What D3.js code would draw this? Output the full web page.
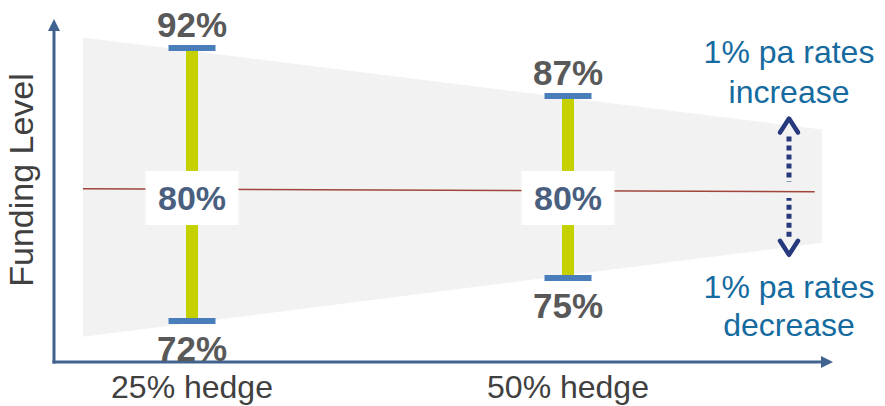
<!DOCTYPE html>
<html>
<head>
<meta charset="utf-8">
<script src="https://cdn.jsdelivr.net/npm/d3@7"></script>
<style>
  body { margin: 0; background: #fff; }
  svg { display: block; font-family: "Liberation Sans", Arial, sans-serif; }
</style>
</head>
<body>
<svg id="chart"></svg>
<script>
// hedge ratios and the funding level ranges around the 80% central case
const hedges = [25, 50];
const hedgeLabels = ["25% hedge", "50% hedge"];
const central = [80, 80];
const upper = [92, 87];
const lower = [72, 75];

// outcome funnel (1% pa rates up / down)
const bandHedge = [17.75, 66.9];
const bandHigh = [93.1, 84.5];
const bandLow = [70.9, 77.0];
const midHedge = [17.75, 66.4];
const midLevel = [80.1, 79.9];

const upText = ["1% pa rates", "increase"];
const downText = ["1% pa rates", "decrease"];

const W = 885, H = 406;
const svg = d3.select("#chart").attr("width", W).attr("height", H);

const x = d3.scaleLinear().domain([25, 50]).range([192, 568]);
// schematic axis, not to scale
const y = d3.scaleLinear()
  .domain([72, 75, 80, 87, 92])
  .range([321, 278, 190, 96, 48]);

const axisX = 54, axisY = 362;
const axisColor = "#41638f";

// funnel band
const bandData = bandHedge.map((h, i) => ({ h, hi: bandHigh[i], lo: bandLow[i] }));
svg.append("path")
  .datum(bandData)
  .attr("fill", "#f2f2f2")
  .attr("d", d3.area().x(d => x(d.h)).y0(d => y(d.lo)).y1(d => y(d.hi)));

// central line
svg.append("path")
  .datum(midHedge.map((h, i) => ({ h, v: midLevel[i] })))
  .attr("fill", "none")
  .attr("stroke", "#a0453c")
  .attr("stroke-width", 1.5)
  .attr("d", d3.line().x(d => x(d.h)).y(d => y(d.v)));

// axes with arrow heads
svg.append("line")
  .attr("x1", axisX).attr("y1", axisY + 1.5)
  .attr("x2", axisX).attr("y2", 30)
  .attr("stroke", axisColor).attr("stroke-width", 3);
svg.append("path")
  .attr("d", `M${axisX - 6},31 L${axisX},19 L${axisX + 6},31 Z`)
  .attr("fill", axisColor);
svg.append("line")
  .attr("x1", axisX - 1.5).attr("y1", axisY)
  .attr("x2", 822).attr("y2", axisY)
  .attr("stroke", axisColor).attr("stroke-width", 3);
svg.append("path")
  .attr("d", `M821,${axisY - 6} L833,${axisY} L821,${axisY + 6} Z`)
  .attr("fill", axisColor);

svg.append("text")
  .attr("transform", `translate(${axisX - 21},180) rotate(-90)`)
  .attr("text-anchor", "middle")
  .attr("fill", "#404040")
  .style("font-size", "34px")
  .text("Funding Level");

svg.selectAll(".xlab")
  .data(hedges)
  .join("text")
  .attr("class", "xlab")
  .attr("x", d => x(d))
  .attr("y", 398)
  .attr("text-anchor", "middle")
  .attr("fill", "#404040")
  .style("font-size", "32px")
  .text((d, i) => hedgeLabels[i]);

// range bars
const bars = hedges.map((h, i) => ({ h, mid: central[i], hi: upper[i], lo: lower[i] }));
const g = svg.selectAll(".bar").data(bars).join("g").attr("class", "bar");

g.append("rect")
  .attr("x", d => x(d.h) - 6)
  .attr("width", 12)
  .attr("y", d => y(d.hi))
  .attr("height", d => y(d.lo) - y(d.hi))
  .attr("fill", "#c4d000");

g.selectAll(".cap")
  .data(d => [{ h: d.h, v: d.hi }, { h: d.h, v: d.lo }])
  .join("rect")
  .attr("class", "cap")
  .attr("x", d => x(d.h) - 23.5)
  .attr("width", 47)
  .attr("y", d => y(d.v) - 3)
  .attr("height", 6)
  .attr("fill", "#4a7ebb");

g.append("rect")
  .attr("x", d => x(d.h) - 46.5)
  .attr("width", 93)
  .attr("y", d => y(d.mid) - 19)
  .attr("height", 54)
  .attr("fill", "#fff");

g.append("text")
  .attr("x", d => x(d.h))
  .attr("y", d => y(d.mid) + 20)
  .attr("text-anchor", "middle")
  .attr("fill", "#4a5f80")
  .style("font-size", "34px")
  .style("font-weight", "bold")
  .text(d => d.mid + "%");

g.append("text")
  .attr("x", d => x(d.h))
  .attr("y", d => y(d.hi) - 11)
  .attr("text-anchor", "middle")
  .attr("fill", "#595959")
  .style("font-size", "35px")
  .style("font-weight", "bold")
  .text(d => d.hi + "%");

g.append("text")
  .attr("x", d => x(d.h))
  .attr("y", d => y(d.lo) + 40)
  .attr("text-anchor", "middle")
  .attr("fill", "#595959")
  .style("font-size", "35px")
  .style("font-weight", "bold")
  .text(d => d.lo + "%");

// rates arrows
const arrowX = 789, arrowColor = "#26397d";
const aTop = y(bandHigh[1]) - 11, aBot = y(bandLow[1]) + 12, aMid = y(80);
[[aTop, aMid - 8, -1], [aBot, aMid + 8, 1]].forEach(([tip, end, dir]) => {
  svg.append("line")
    .attr("x1", arrowX).attr("x2", arrowX)
    .attr("y1", tip - dir * 18).attr("y2", end)
    .attr("stroke", arrowColor).attr("stroke-width", 5)
    .attr("stroke-dasharray", "5 4");
  svg.append("path")
    .attr("d", `M${arrowX - 9},${tip - dir * 14} L${arrowX},${tip} L${arrowX + 9},${tip - dir * 14}`)
    .attr("fill", "none")
    .attr("stroke", arrowColor).attr("stroke-width", 4.5)
    .attr("stroke-linejoin", "round").attr("stroke-linecap", "round");
});

const noteColor = "#156ba0";
const addNote = (lines, y0, dy) => svg.append("text")
  .attr("text-anchor", "middle")
  .attr("fill", noteColor)
  .style("font-size", "32px")
  .selectAll("tspan")
  .data(lines)
  .join("tspan")
  .attr("x", arrowX)
  .attr("y", (d, i) => y0 + i * dy)
  .text(d => d);
addNote(upText, 63, 40);
addNote(downText, 298, 38);
</script>
</body>
</html>
